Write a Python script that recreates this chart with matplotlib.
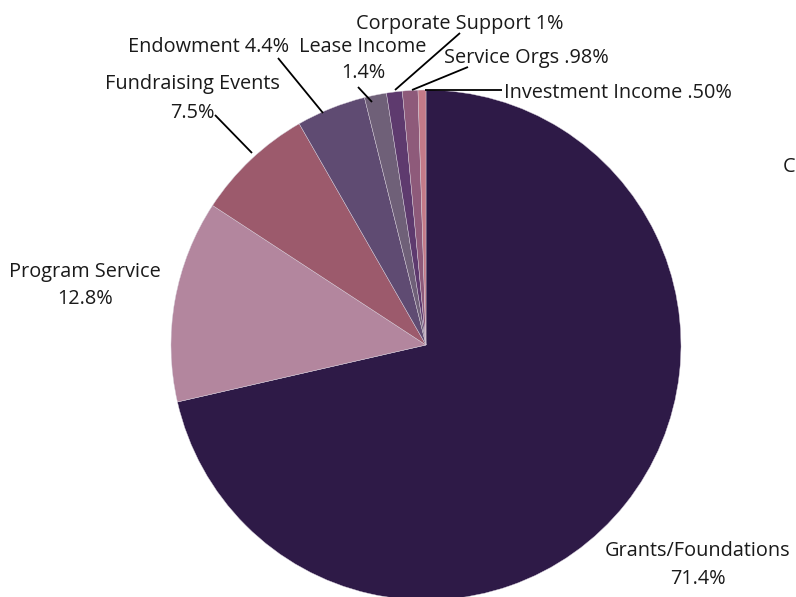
import matplotlib
matplotlib.use("Agg")
import matplotlib.pyplot as plt

categories = ["Grants/Foundations", "Program Service", "Fundraising Events", "Endowment",
              "Lease Income", "Corporate Support", "Service Orgs", "Investment Income"]
values = [71.4, 12.8, 7.5, 4.4, 1.4, 1.0, 0.98, 0.50]
pct_labels = ["71.4%", "12.8%", "7.5%", "4.4%", "1.4%", "1%", ".98%", ".50%"]
colors = ["#2e1a47", "#b3869e", "#9c5a6c", "#5f4b72", "#6f6078", "#5e3a6e", "#8e5a7a", "#c47a88"]

W, H = 796, 597
plt.rcParams['font.family'] = ['Open Sans', 'DejaVu Sans']
fig = plt.figure(figsize=(W / 100, H / 100), dpi=100)
ax = fig.add_axes([0, 0, 1, 1])

def Y(y):
    return H - y

ax.pie(values, colors=colors, startangle=90, counterclock=False,
       center=(426, Y(345)), radius=255, frame=True,
       wedgeprops=dict(edgecolor='#d8d0dc', linewidth=0.3))
ax.set_xlim(0, W)
ax.set_ylim(0, H)
ax.set_aspect('equal')
ax.axis('off')

fs = 14.3
def txt(x, y, s, ha='center'):
    ax.text(x, Y(y + 1.5), s, ha=ha, va='center', fontsize=fs, color='#1a1a1a')

def line(x1, y1, x2, y2):
    ax.plot([x1, x2], [Y(y1), Y(y2)], color='black', lw=1.3, solid_capstyle='butt')

# Grants
txt(698, 550, categories[0]); txt(698, 577, pct_labels[0])
# Program Service
txt(85, 270, categories[1]); txt(85, 298, pct_labels[1])
# Fundraising
txt(192, 82, categories[2]); txt(192, 112, pct_labels[2])
line(215, 115, 252, 153)
# Endowment
txt(209, 45, categories[3] + " " + pct_labels[3])
line(278, 58, 323, 113)
# Lease
txt(363, 45, categories[4]); txt(363, 72, pct_labels[4])
line(358, 87, 372, 102)
# Corporate
txt(460, 22, categories[5] + " " + pct_labels[5])
line(460, 33, 395, 90)
# Service Orgs
txt(526, 57, categories[6] + " " + pct_labels[6])
line(468, 67, 412, 90)
# Investment
txt(504, 91, categories[7] + " " + pct_labels[7], ha='left')
line(425, 90, 502, 90)

txt(783, 165, "C", ha='left')

fig.savefig("out.png", dpi=100)
